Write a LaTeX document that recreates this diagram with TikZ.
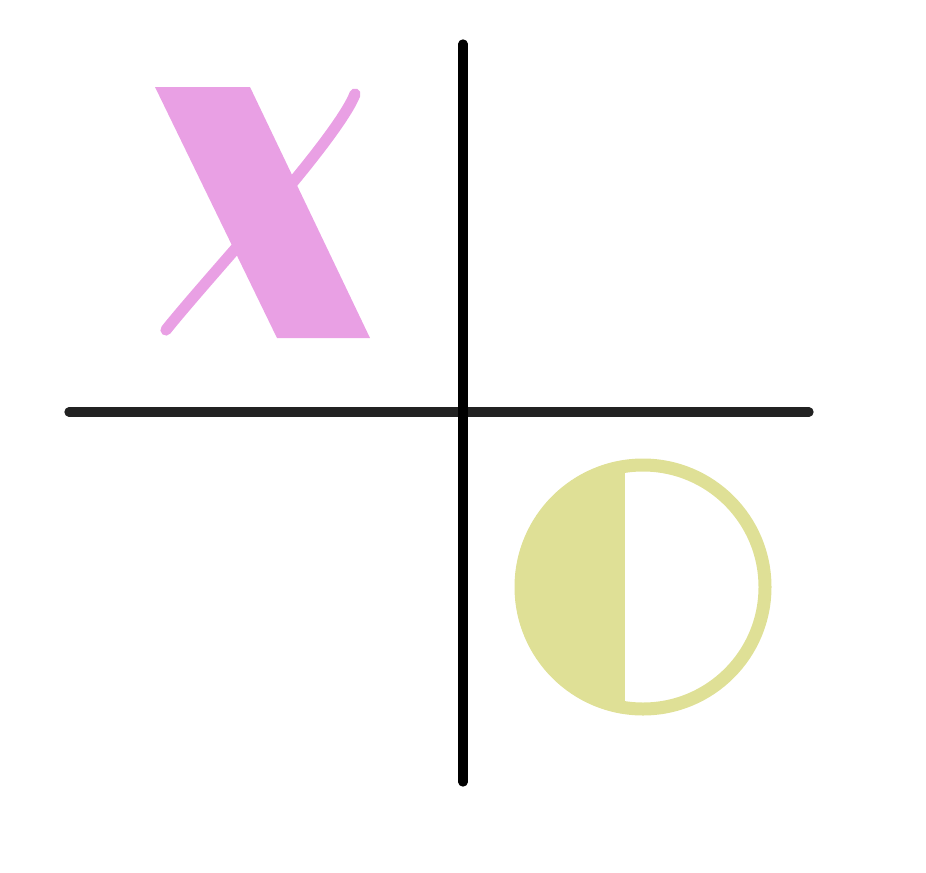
\documentclass[tikz,border=0pt]{standalone}
\usepackage{tikz}
\usetikzlibrary{positioning}

\definecolor{xpink}{RGB}{233,160,228}
\definecolor{oyellow}{RGB}{223,224,150}
\definecolor{axisgray}{RGB}{34,34,34}

\begin{document}
\begin{tikzpicture}[
  x=0.02cm, y=0.02cm,
  vaxis/.style={draw=black, line width=5.3pt, line cap=round},
  haxis/.style={draw=axisgray, line width=5.3pt, line cap=round},
  xthin/.style={draw=xpink, line width=6.4pt, line cap=round},
  xthick/.style={fill=xpink},
  oring/.style={draw=oyellow, line width=7.4pt},
  ohalf/.style={fill=oyellow}
]
\useasboundingbox (0,0) rectangle (926,-872);

\coordinate (vtop) at (463,-44);
\coordinate (vbot) at (463,-782);
\coordinate (hleft) at (69,-412);
\coordinate (hright) at (809,-412);
\coordinate (ocent) at (643,-587);

% the X
\draw[xthin] (355,-94) .. controls (346,-118) and (300,-175) .. (265,-215)
  .. controls (230,-255) and (180,-312) .. (166,-330);
\fill[xthick] (155,-87) -- (250,-87) -- (370,-338) -- (277,-338) -- cycle;

% the half filled O
\begin{scope}
  \clip (ocent) circle (128);
  \fill[ohalf] (500,-440) rectangle (625,-730);
\end{scope}
\draw[oring] (ocent) circle (122);

% axes
\draw[haxis] (hleft) -- (hright);
\draw[vaxis] (vtop) -- (vbot);

\end{tikzpicture}
\end{document}
